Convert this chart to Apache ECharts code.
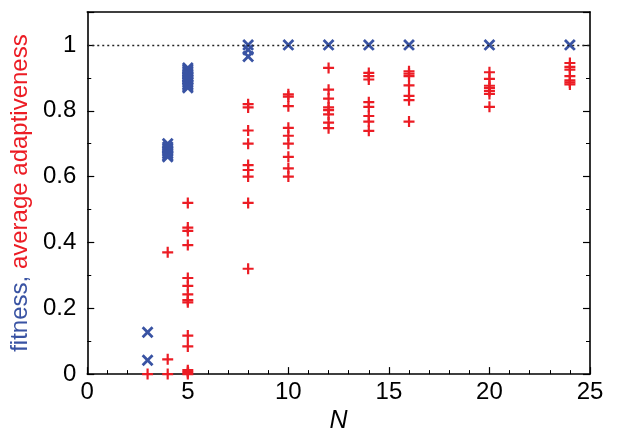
<!DOCTYPE html>
<html><head><meta charset="utf-8">
<script src="https://cdn.jsdelivr.net/npm/echarts@6/dist/echarts.min.js"></script>
<style>html,body{margin:0;padding:0;background:#fff}#c{width:620px;height:439px}</style>
</head><body><div id="c"></div>
<script>
// fitness values (blue ×), as [N, value]
const fitnessData = [
  [3,0.127],[3,0.042],
  [4,0.70],[4,0.69],[4,0.685],[4,0.68],[4,0.675],[4,0.67],[4,0.665],[4,0.66],
  [5,0.93],[5,0.925],[5,0.92],[5,0.915],[5,0.91],[5,0.905],[5,0.90],[5,0.895],[5,0.89],[5,0.885],[5,0.88],[5,0.875],[5,0.87],
  [8,1.0],[8,0.985],[8,0.965],
  [10,1.0],[12,1.0],[14,1.0],[16,1.0],[20,1.0],[24,1.0]
];
// average adaptiveness values (red +), as [N, value]
const adaptData = [
  [3,0.0],
  [4,0.37],[4,0.045],[4,0.0],
  [5,0.52],[5,0.445],[5,0.435],[5,0.392],[5,0.292],[5,0.268],[5,0.242],[5,0.225],[5,0.218],[5,0.117],[5,0.084],[5,0.012],[5,0.006],[5,0.0],
  [8,0.82],[8,0.81],[8,0.74],[8,0.70],[8,0.635],[8,0.62],[8,0.60],[8,0.52],[8,0.32],
  [10,0.85],[10,0.843],[10,0.814],[10,0.748],[10,0.724],[10,0.70],[10,0.66],[10,0.625],[10,0.60],
  [12,0.93],[12,0.864],[12,0.837],[12,0.81],[12,0.802],[12,0.789],[12,0.764],[12,0.747],
  [14,0.915],[14,0.905],[14,0.895],[14,0.826],[14,0.812],[14,0.784],[14,0.767],[14,0.739],
  [16,0.92],[16,0.913],[16,0.905],[16,0.877],[16,0.845],[16,0.832],[16,0.767],
  [20,0.917],[20,0.897],[20,0.876],[20,0.869],[20,0.86],[20,0.851],[20,0.812],
  [24,0.945],[24,0.933],[24,0.925],[24,0.905],[24,0.892],[24,0.886],[24,0.88]
];
const xTicks = [0,5,10,15,20,25];
const yTicks = [0,0.2,0.4,0.6,0.8,1];
const refLine = 1;

const BLUE = '#3953a3', RED = '#ec1c24';
const plusPath = 'path://M4,0H6V4H10V6H6V10H4V6H0V4H4Z';
const FONT = 'Liberation Sans';

const chart = echarts.init(document.getElementById('c'), null, {renderer:'canvas'});
const axisCommon = {
  axisLine:{show:true,onZero:false,lineStyle:{color:'#000',width:1.6}},
  axisTick:{show:true,inside:true,length:7,lineStyle:{color:'#000',width:1.2}},
  minorTick:{show:true,splitNumber:5,length:4,lineStyle:{color:'#000',width:1}},
  splitLine:{show:false}
};
chart.setOption({
  animation:false,
  backgroundColor:'#fff',
  grid:{left:84,right:30,top:12,bottom:62,containLabel:false},
  xAxis:[
    Object.assign({}, axisCommon, {
      type:'value', min:xTicks[0], max:xTicks[xTicks.length-1], interval:5,
      name:'N', nameLocation:'middle', nameGap:19,
      nameTextStyle:{fontFamily:FONT,fontSize:25,fontStyle:'italic',color:'#000'},
      axisLabel:{fontFamily:FONT,fontSize:24,color:'#000',margin:6}
    }),
    Object.assign({}, axisCommon, {
      type:'value', position:'top', min:0, max:25, interval:5,
      axisLabel:{show:false}, axisTick:{show:false}, minorTick:{show:false}
    })
  ],
  yAxis:[
    Object.assign({}, axisCommon, {
      type:'value', min:0, max:1.1, interval:0.2,
      minorTick:{show:true,splitNumber:2,length:4,lineStyle:{color:'#000',width:1}},
      name:'{b|fitness,} {r|average adaptiveness}',
      nameLocation:'middle', nameGap:51, nameRotate:90,
      nameTextStyle:{fontFamily:FONT,fontSize:24,rich:{
        b:{color:BLUE,fontFamily:FONT,fontSize:24},
        r:{color:RED,fontFamily:FONT,fontSize:24}}},
      axisLabel:{fontFamily:FONT,fontSize:24,color:'#000',margin:11,showMaxLabel:false,
        formatter:v=>{const t=yTicks.find(k=>Math.abs(k-v)<1e-9);return t===undefined?'':String(t);}}
    }),
    Object.assign({}, axisCommon, {
      type:'value', position:'right', min:0, max:1.1, interval:0.2,
      minorTick:{show:true,splitNumber:2,length:4,lineStyle:{color:'#000',width:1}},
      axisLabel:{show:false}
    })
  ],
  series:[
    {
      type:'scatter', name:'fitness', data:fitnessData, xAxisIndex:0, yAxisIndex:0,
      symbol:plusPath, symbolRotate:45, symbolSize:14,
      itemStyle:{color:BLUE,opacity:1}, z:3,
      markLine:{silent:true,symbol:['none','none'],label:{show:false},
        lineStyle:{type:[2,3],color:'#222',width:1.3},
        data:[{yAxis:refLine}]}
    },
    {
      type:'scatter', name:'adaptiveness', data:adaptData, xAxisIndex:0, yAxisIndex:0,
      symbol:plusPath, symbolSize:11,
      itemStyle:{color:RED,opacity:1}, z:4
    }
  ]
});
</script></body></html>
